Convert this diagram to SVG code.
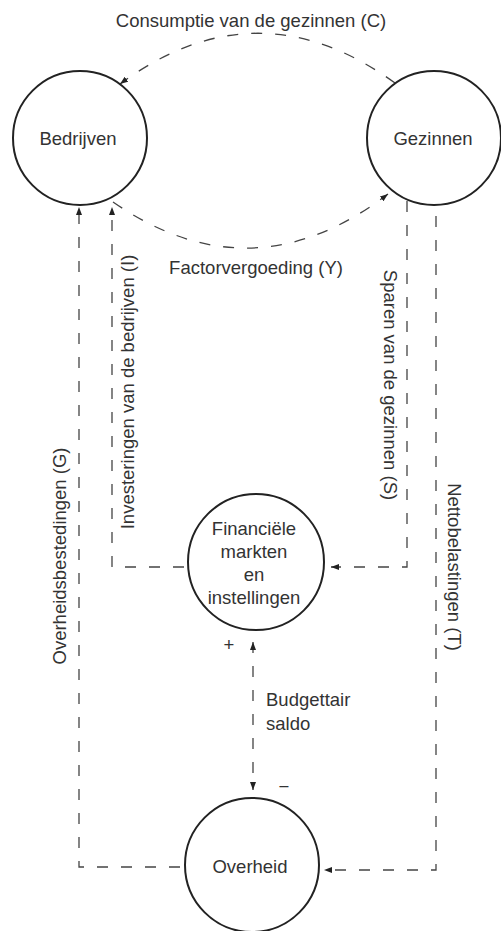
<svg xmlns="http://www.w3.org/2000/svg" width="501" height="931" viewBox="0 0 501 931">
<style>
.node{fill:#fff;stroke:#222;stroke-width:2}
.lbl{font-family:"Liberation Sans",Arial,sans-serif;font-size:18.5px;fill:#333}
.c{text-anchor:middle}
.flow{fill:none;stroke:#444;stroke-width:1.3;stroke-dasharray:11 13}
</style>
<defs>
<marker id="arr" markerUnits="userSpaceOnUse" markerWidth="10" markerHeight="8" refX="8" refY="3" orient="auto-start-reverse">
<path d="M0,0 L8,3 L0,6 z" fill="#222"/>
</marker>
</defs>
<rect width="501" height="931" fill="#fff"/>
<g id="connectors">
<path class="flow" d="M395,83 Q257,-17 120,84" marker-end="url(#arr)"/>
<path class="flow" d="M113,202 Q252,298 388,194" marker-end="url(#arr)"/>
<path class="flow" d="M180,867 H79 V207" marker-end="url(#arr)"/>
<path class="flow" d="M184,567 H112 V207" marker-end="url(#arr)"/>
<path class="flow" d="M407,201 V567 H331" marker-end="url(#arr)"/>
<path class="flow" d="M436,216 V870 H324" marker-end="url(#arr)"/>
<path class="flow" d="M253,642 V790" marker-start="url(#arr)" marker-end="url(#arr)"/>
</g>
<g id="labels">
<text class="lbl c" x="251" y="27">Consumptie van de gezinnen (C)</text>
<text class="lbl c" x="256" y="274">Factorvergoeding (Y)</text>
<text class="lbl c" transform="translate(66,556) rotate(-90)">Overheidsbestedingen (G)</text>
<text class="lbl c" transform="translate(134,392) rotate(-90)">Investeringen van de bedrijven (I)</text>
<text class="lbl c" transform="translate(384,385) rotate(90)">Sparen van de gezinnen (S)</text>
<text class="lbl c" transform="translate(448,567) rotate(90)">Nettobelastingen (T)</text>
<text class="lbl" x="266" y="706">Budgettair</text>
<text class="lbl" x="266" y="730">saldo</text>
<text class="lbl c" x="229" y="651">+</text>
<text class="lbl c" x="284" y="793">−</text>
</g>
<g id="bedrijven">
<circle class="node" cx="80" cy="138" r="67"/>
<text class="lbl c" x="78" y="145">Bedrijven</text>
</g>
<g id="gezinnen">
<circle class="node" cx="434" cy="138" r="67"/>
<text class="lbl c" x="433" y="145">Gezinnen</text>
</g>
<g id="financiele">
<circle class="node" cx="256" cy="562" r="68"/>
<text class="lbl c" x="254" y="535">Financiële</text>
<text class="lbl c" x="254" y="558">markten</text>
<text class="lbl c" x="254" y="581">en</text>
<text class="lbl c" x="254" y="604">instellingen</text>
</g>
<g id="overheid">
<circle class="node" cx="252" cy="865" r="67"/>
<text class="lbl c" x="250" y="873">Overheid</text>
</g>
</svg>
